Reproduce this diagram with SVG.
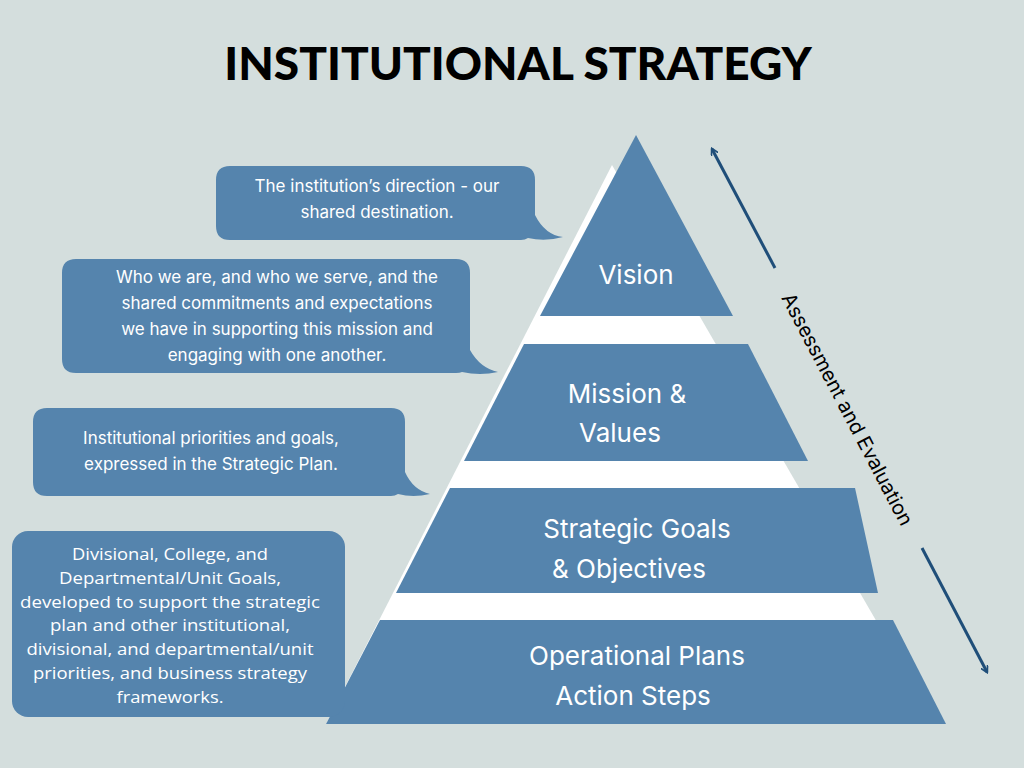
<svg xmlns="http://www.w3.org/2000/svg" width="1024" height="768" viewBox="0 0 1024 768">
<style>
.b{fill:#5584ad}
.t{font-family:Inter,"Open Sans",sans-serif;fill:#fff;text-anchor:middle}
.s{font-size:17px}
.l{font-size:26px}
.c{font-family:"Open Sans",sans-serif;font-size:16px;fill:#fff;text-anchor:middle}
</style>
<defs><marker id="ah" viewBox="0 0 10 10" refX="8" refY="5" markerWidth="8" markerHeight="8" orient="auto-start-reverse" markerUnits="userSpaceOnUse"><path d="M0,0 L9,5 L0,10" fill="none" stroke="#1f4e79" stroke-width="2"/></marker></defs>
<rect width="1024" height="768" fill="#d4dedd"/>
<text x="518" y="80" font-family="Lato,Inter,sans-serif" font-weight="900" font-size="46" text-anchor="middle" fill="#000">INSTITUTIONAL STRATEGY</text>
<polygon points="612,165 326,724 936,724" fill="#fff"/>
<g id="vision"><polygon class="b" points="636,135 540,316 733,316"/><text class="t l" x="636" y="284">Vision</text></g>
<g id="mission"><polygon class="b" points="524,344 748,344 808,461 464,461"/><text class="t l" x="627" y="403">Mission &amp;</text><text class="t l" x="620" y="442">Values</text></g>
<g id="strategic"><polygon class="b" points="450,488 855,488 878,593 396,593"/><text class="t l" x="637" y="538">Strategic Goals</text><text class="t l" x="629" y="578">&amp; Objectives</text></g>
<g id="operational"><polygon class="b" points="380,620 893,620 946,724 326,724"/><text class="t l" x="637" y="665">Operational Plans</text><text class="t l" x="633" y="705">Action Steps</text></g>
<g id="bubble1"><path class="b" d="M230,166 H521 Q535,166 535,180 V215 Q545,235 563,237 Q545,242 528,238 Q525,240 521,240 H230 Q216,240 216,226 V180 Q216,166 230,166 Z"/><text class="t s" x="377" y="192">The institution’s direction - our</text><text class="t s" x="377" y="218">shared destination.</text></g>
<g id="bubble2"><path class="b" d="M76,259 H456 Q470,259 470,273 V350 Q480,368 498,372 Q480,376 462,372 Q460,373 456,373 H76 Q62,373 62,359 V273 Q62,259 76,259 Z"/><text class="t s" x="277" y="283">Who we are, and who we serve, and the</text><text class="t s" x="277" y="309">shared commitments and expectations</text><text class="t s" x="277" y="335">we have in supporting this mission and</text><text class="t s" x="277" y="361">engaging with one another.</text></g>
<g id="bubble3"><path class="b" d="M47,408 H391 Q405,408 405,422 V472 Q413,490 430,494 Q413,498 398,494 Q395,496 391,496 H47 Q33,496 33,482 V422 Q33,408 47,408 Z"/><text class="t s" x="211" y="444">Institutional priorities and goals,</text><text class="t s" x="211" y="470">expressed in the Strategic Plan.</text></g>
<g id="bubble4"><rect class="b" x="12" y="531" width="333" height="186" rx="16"/>
<text class="c" x="170" y="560" textLength="196" lengthAdjust="spacingAndGlyphs">Divisional, College, and</text>
<text class="c" x="170" y="584" textLength="222" lengthAdjust="spacingAndGlyphs">Departmental/Unit Goals,</text>
<text class="c" x="170" y="608" textLength="300" lengthAdjust="spacingAndGlyphs">developed to support the strategic</text>
<text class="c" x="170" y="631" textLength="240" lengthAdjust="spacingAndGlyphs">plan and other institutional,</text>
<text class="c" x="170" y="655" textLength="287" lengthAdjust="spacingAndGlyphs">divisional, and departmental/unit</text>
<text class="c" x="170" y="679" textLength="274" lengthAdjust="spacingAndGlyphs">priorities, and business strategy</text>
<text class="c" x="170" y="703" textLength="107" lengthAdjust="spacingAndGlyphs">frameworks.</text></g>
<g id="connectors" stroke="#1f4e79" stroke-width="3" fill="none">
<line x1="775" y1="268" x2="712" y2="149" marker-end="url(#ah)"/>
<line x1="922" y1="548" x2="987" y2="672" marker-end="url(#ah)"/>
</g>
<text transform="translate(846,410) rotate(62.3)" font-family="Inter,'Open Sans',sans-serif" font-size="20" text-anchor="middle" dominant-baseline="middle" fill="#000">Assessment and Evaluation</text>
</svg>
